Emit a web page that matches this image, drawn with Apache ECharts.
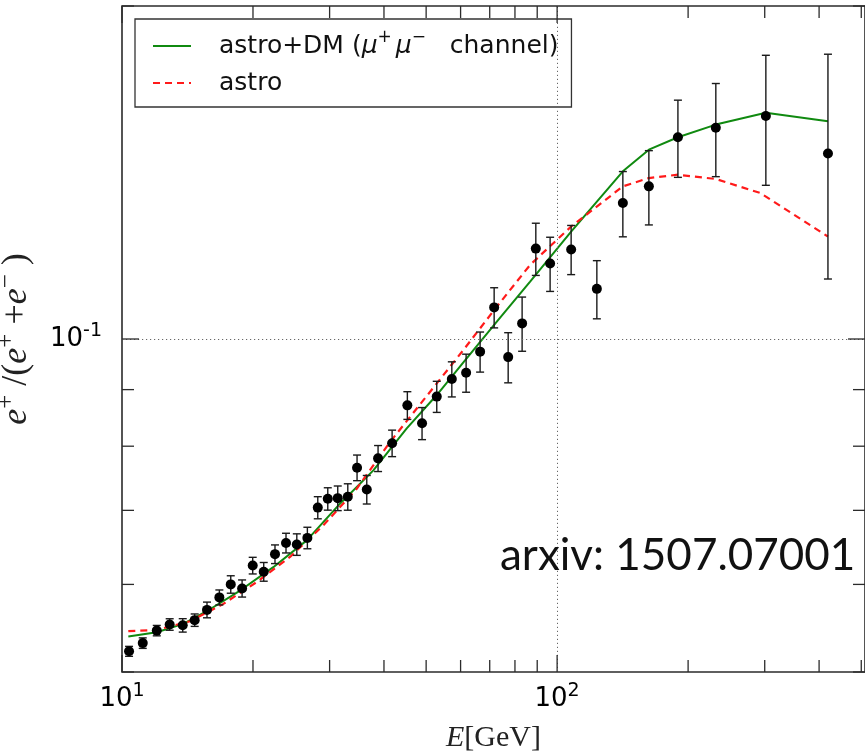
<!DOCTYPE html>
<html><head><meta charset="utf-8">
<script src="https://cdn.jsdelivr.net/npm/echarts@6/dist/echarts.min.js"></script>
<style>html,body{margin:0;padding:0;background:#fff}#c{width:865px;height:754px}</style>
</head><body><div id="c"></div>
<script>
// ---- data ----
const energy = [10.38, 11.16, 12.02, 12.87, 13.79, 14.69, 15.68, 16.74, 17.78, 18.88,
  19.97, 21.17, 22.47, 23.82, 25.22, 26.67, 28.18, 29.71, 31.32, 33.03,
  34.69, 36.52, 38.77, 41.76, 45.27, 48.93, 52.89, 57.28, 61.78, 66.53,
  71.66, 77.18, 83.09, 89.34, 96.36, 107.7, 123.4, 141.6, 162.5, 189.5,
  231.6, 301.8, 419.2];
const fraction = [0.0522, 0.0531, 0.0545, 0.0552, 0.0551, 0.0557, 0.0569, 0.0584, 0.0600, 0.0595,
  0.0624, 0.0616, 0.0639, 0.0654, 0.0652, 0.0661, 0.0704, 0.0717, 0.0718, 0.0720,
  0.0765, 0.0731, 0.0780, 0.0805, 0.0871, 0.0839, 0.0887, 0.0920, 0.0932, 0.0974,
  0.1068, 0.0963, 0.1033, 0.1207, 0.1170, 0.1205, 0.1110, 0.1327, 0.1374, 0.1522,
  0.1552, 0.1591, 0.1471];
const fractionErr = [0.00054, 0.00058, 0.00059, 0.00066, 0.00077, 0.00072, 0.00093, 0.00091, 0.00109, 0.00106,
  0.00108, 0.00120, 0.00124, 0.00134, 0.00146, 0.00148, 0.00162, 0.00167, 0.00184, 0.00198,
  0.00204, 0.00217, 0.00211, 0.00222, 0.00251, 0.00280, 0.00287, 0.00336, 0.00369, 0.00406,
  0.00446, 0.00502, 0.00582, 0.00655, 0.00659, 0.00616, 0.00671, 0.0090, 0.0106, 0.0122,
  0.0150, 0.0214, 0.0338];

const dmEnergy = [10.34, 12.02, 13.83, 15.66, 18.68, 22.27, 26.58, 31.70, 37.81, 45.12, 52.89,
  60.89, 72.68, 86.68, 107.7, 141.6, 162.5, 189.5, 231.6, 301.8, 419.2];
const dmFraction = [0.05383, 0.05431, 0.05527, 0.05674, 0.05924, 0.06219, 0.06576, 0.07098, 0.07608, 0.08302, 0.08899,
  0.09526, 0.10368, 0.11270, 0.12507, 0.14177, 0.14830, 0.15218, 0.15625, 0.16013, 0.15734];

const astroEnergy = [10.34, 12.02, 14.33, 17.10, 20.40, 24.33, 29.02, 34.63, 41.31, 49.28, 52.89,
  60.89, 72.68, 86.68, 107.7, 141.6, 162.5, 189.5, 231.6, 292.9, 419.2];
const astroFraction = [0.05443, 0.05458, 0.05557, 0.05762, 0.06029, 0.06353, 0.06785, 0.07322, 0.08071, 0.08805, 0.09117,
  0.09773, 0.10697, 0.11668, 0.12638, 0.13740, 0.13980, 0.14077, 0.13952, 0.13552, 0.12378];

const xRange = [10, 510];
const yRange = [0.05, 0.2];
const xMajorTicks = [10, 100];
const xMinorTicks = [20, 30, 40, 50, 60, 70, 80, 90, 200, 300, 400, 500];
const yMajorTicks = [0.1];
const yMinorTicks = [0.05, 0.06, 0.07, 0.08, 0.09, 0.2];
const gridX = [100];
const gridY = [0.1];

const NAME_DM = 'astro+DM (μ+μ− channel)';
const NAME_ASTRO = 'astro';
const annotation = 'arxiv: 1507.07001';

// ---- chart ----
const chart = echarts.init(document.getElementById('c'), null, {renderer: 'canvas'});
const isPow10 = v => Math.abs(Math.log10(v) - Math.round(Math.log10(v))) < 1e-6;
const frameColor = '#2b2b2b';
const supStyle = {fontFamily: 'DejaVu Sans', fontSize: 19, padding: [0, 0, 15, 0], lineHeight: 30};

function tickRender(axisDir, len) {
  return function (params, api) {
    const v = api.value(axisDir === 'x' ? 0 : 1);
    const st = {stroke: frameColor, lineWidth: 1.3};
    if (axisDir === 'x') {
      const b = api.coord([v, yRange[0]]);
      const t = api.coord([v, yRange[1]]);
      return {type: 'group', children: [
        {type: 'line', shape: {x1: b[0], y1: b[1], x2: b[0], y2: b[1] - len}, style: st},
        {type: 'line', shape: {x1: t[0], y1: t[1], x2: t[0], y2: t[1] + len}, style: st}
      ]};
    } else {
      const l = api.coord([xRange[0], v]);
      const r = api.coord([xRange[1], v]);
      return {type: 'group', children: [
        {type: 'line', shape: {x1: l[0], y1: l[1], x2: l[0] + len, y2: l[1]}, style: st},
        {type: 'line', shape: {x1: r[0], y1: r[1], x2: r[0] - len, y2: r[1]}, style: st}
      ]};
    }
  };
}

const option = {
  animation: false,
  backgroundColor: '#fff',
  grid: {left: 122, right: 0, top: 6, bottom: 82, show: true, containLabel: false, outerBoundsMode: 'none',
    borderColor: frameColor, borderWidth: 1.6, backgroundColor: 'transparent'},
  legend: {
    left: 135, top: 19, orient: 'vertical',
    backgroundColor: '#fff', borderColor: '#333', borderWidth: 1.3, borderRadius: 0,
    padding: [10, 13, 10, 17], itemGap: 6, itemWidth: 38, itemHeight: 14,
    itemStyle: {color: 'transparent', borderColor: 'transparent', borderWidth: 0},
    data: [{name: NAME_DM}, {name: NAME_ASTRO}],
    formatter: function (name) {
      if (name === NAME_DM) return '{pad|}astro+DM ({mu|μ}{sup|+}{sp|}{mu|μ}{sup|−}   channel)';
      return '{pad|}astro';
    },
    textStyle: {
      fontFamily: 'DejaVu Sans', fontSize: 25, color: '#111', lineHeight: 28,
      rich: {
        pad: {width: 23},
        sp: {width: 4},
        mu: {fontFamily: 'DejaVu Sans', fontStyle: 'italic', fontSize: 25, lineHeight: 28},
        sup: {fontFamily: 'DejaVu Sans', fontSize: 17, padding: [0, 0, 17, 0], lineHeight: 28}
      }
    }
  },
  xAxis: {
    type: 'log', logBase: 10, min: xRange[0], max: xRange[1],
    axisLine: {show: false}, axisTick: {show: false}, splitLine: {show: false},
    axisLabel: {
      margin: 12, color: '#000', fontFamily: 'DejaVu Sans', fontSize: 26, lineHeight: 30,
      formatter: v => isPow10(v) ? '10{sup|' + Math.round(Math.log10(v)) + '}' : '',
      rich: {sup: supStyle}
    },
    name: '{it|E}{up|[GeV]}', nameLocation: 'middle', nameGap: 51,
    nameTextStyle: {color: '#222', fontFamily: 'Liberation Serif', fontSize: 30,
      rich: {it: {fontFamily: 'Liberation Serif', fontStyle: 'italic', fontSize: 30},
             up: {fontFamily: 'Liberation Serif', fontSize: 30}}}
  },
  yAxis: {
    type: 'log', logBase: 10, min: yRange[0], max: yRange[1],
    axisLine: {show: false}, axisTick: {show: false}, splitLine: {show: false},
    axisLabel: {
      margin: 20, color: '#000', fontFamily: 'DejaVu Sans', fontSize: 26, lineHeight: 30,
      formatter: v => (isPow10(v) && Math.abs(v - 0.1) < 1e-9) ? '10{sup|-1}' : '',
      rich: {sup: supStyle}
    },
    name: '{it|e}{s|+}{up| /(}{it|e}{s|+}{up| +}{it|e}{s|−}{up| )}', nameLocation: 'middle', nameRotate: 90, nameGap: 66,
    nameTextStyle: {color: '#222', fontFamily: 'Liberation Serif', fontSize: 36, lineHeight: 40,
      rich: {it: {fontFamily: 'Liberation Serif', fontStyle: 'italic', fontSize: 36, lineHeight: 40},
             up: {fontFamily: 'Liberation Serif', fontSize: 36, lineHeight: 40},
             s: {fontFamily: 'Liberation Serif', fontSize: 25, padding: [0, 0, 20, 0], lineHeight: 40}}}
  },
  graphic: [{
    type: 'text', x: 500, y: 556, z: 100,
    style: {text: annotation, font: '44px Lato', fill: '#111', align: 'left', verticalAlign: 'middle'}
  }],
  series: [
    {
      name: 'grid', type: 'line', z: 1, data: [[gridX[0], gridY[0]]], symbol: 'none', silent: true,
      lineStyle: {opacity: 0},
      markLine: {
        silent: true, symbol: 'none', label: {show: false},
        lineStyle: {type: [1.2, 2.8], color: '#666', width: 1},
        data: gridX.map(v => ({xAxis: v})).concat(gridY.map(v => ({yAxis: v})))
      }
    },
    {
      name: NAME_DM, type: 'line', z: 3, symbol: 'none', smooth: false,
      color: '#108a10',
      lineStyle: {color: '#108a10', width: 2},
      data: dmEnergy.map((e, i) => [e, dmFraction[i]])
    },
    {
      name: NAME_ASTRO, type: 'line', z: 3, symbol: 'none', smooth: false,
      color: '#ff1a1a',
      lineStyle: {color: '#ff1a1a', width: 2.2, type: [7, 5]},
      data: astroEnergy.map((e, i) => [e, astroFraction[i]])
    },
    {
      name: 'errors', type: 'custom', z: 4, silent: true,
      data: energy.map((e, i) => [e, fraction[i], fractionErr[i]]),
      renderItem: function (params, api) {
        const x = api.value(0), y = api.value(1), er = api.value(2);
        const top = api.coord([x, y + er]);
        const bot = api.coord([x, y - er]);
        const st = {stroke: '#1a1a1a', lineWidth: 1.4};
        const cap = 4;
        return {type: 'group', children: [
          {type: 'line', shape: {x1: top[0], y1: top[1], x2: bot[0], y2: bot[1]}, style: st},
          {type: 'line', shape: {x1: top[0] - cap, y1: top[1], x2: top[0] + cap, y2: top[1]}, style: st},
          {type: 'line', shape: {x1: bot[0] - cap, y1: bot[1], x2: bot[0] + cap, y2: bot[1]}, style: st}
        ]};
      }
    },
    {
      name: 'data', type: 'scatter', z: 5, symbol: 'circle', symbolSize: 10, silent: true,
      itemStyle: {color: '#000', opacity: 1},
      data: energy.map((e, i) => [e, fraction[i]])
    },
    {name: 'xMajor', type: 'custom', z: 6, silent: true, data: xMajorTicks.map(v => [v, yRange[0]]), renderItem: tickRender('x', 17)},
    {name: 'xMinor', type: 'custom', z: 6, silent: true, data: xMinorTicks.map(v => [v, yRange[0]]), renderItem: tickRender('x', 12)},
    {name: 'yMajor', type: 'custom', z: 6, silent: true, data: yMajorTicks.map(v => [xRange[0], v]), renderItem: tickRender('y', 17)},
    {name: 'yMinor', type: 'custom', z: 6, silent: true, data: yMinorTicks.map(v => [xRange[0], v]), renderItem: tickRender('y', 12)}
  ]
};
chart.setOption(option);
</script>
</body></html>
